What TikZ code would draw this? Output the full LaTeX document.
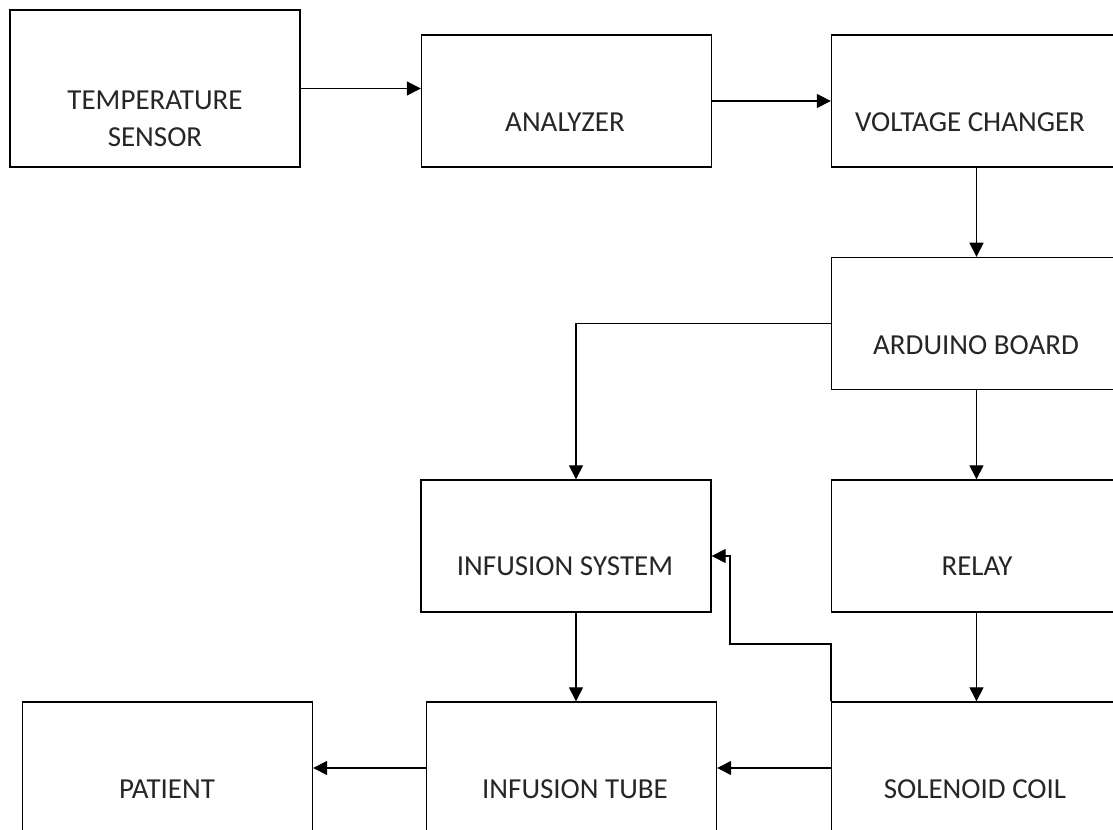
\documentclass[tikz,border=0pt]{standalone}
\usepackage{fontspec}
\setmainfont{Carlito}
\usetikzlibrary{arrows.meta}

\tikzset{
  box/.style={draw, line width=0.8pt, minimum width=5.8cm, minimum height=2.64cm},
  lbl/.style={font=\fontsize{16.5}{21}\selectfont, align=center, inner sep=0pt, text=black!85},
}

\begin{document}
\begin{tikzpicture}[x=0.02cm, y=-0.02cm, line width=0.8pt]
\path[use as bounding box, clip] (0,0) rectangle (1113,830);

% top row
\node[box, minimum height=3.14cm] (ts) at (155,88.5) {};
\node[box] (ana) at (566.5,101) {};
\node[box] (vc) at (976.5,101) {};
\node[lbl] (tst) at (155,118.5) {TEMPERATURE\\SENSOR};
\node[lbl] (anat) at (565,122) {ANALYZER};
\node[lbl] (vct) at (970,122) {VOLTAGE CHANGER};

% right column
\node[box] (ard) at (976.5,323.5) {};
\node[box] (rel) at (976.5,546) {};
\node[box] (sol) at (976.5,768) {};
\node[lbl] (ardt) at (976,345) {ARDUINO BOARD};
\node[lbl] (relt) at (977,566) {RELAY};
\node[lbl] (solt) at (975,789) {SOLENOID COIL};

% middle and left
\node[box] (inf) at (566,546) {};
\node[box] (tube) at (571.5,768) {};
\node[box] (pat) at (167.5,768) {};
\node[lbl] (inft) at (565,566) {INFUSION SYSTEM};
\node[lbl] (tubet) at (575,789) {INFUSION TUBE};
\node[lbl] (patt) at (167,789) {PATIENT};

\coordinate (kink) at (730,644);

\draw[->, >={Triangle[length=8pt,width=8pt]}] (ts.east) -- (ts.east -| ana.west);
\draw[->, >={Triangle[length=8pt,width=8pt]}] (ana.east) -- (vc.west);
\draw[->, >={Triangle[length=8pt,width=8pt]}] (vc.south) -- (ard.north);
\draw[->, >={Triangle[length=8pt,width=8pt]}] (ard.south) -- (rel.north);
\draw[->, >={Triangle[length=8pt,width=8pt]}] (rel.south) -- (sol.north);
\draw[->, >={Triangle[length=8pt,width=8pt]}] (ard.west) -| ([xshift=0.2cm]inf.north);
\draw[->, >={Triangle[length=8pt,width=8pt]}] ([xshift=0.2cm]inf.south) -- ([xshift=0.2cm]inf.south |- tube.north);
\draw[->, >={Triangle[length=8pt,width=8pt]}] (sol.west) -- (sol.west -| tube.east);
\draw[->, >={Triangle[length=8pt,width=8pt]}] (tube.west) -- (tube.west -| pat.east);
\draw[->, >={Triangle[length=8pt,width=8pt]}] (sol.north west) |- (kink) |- ([yshift=-0.2cm]inf.east);

\end{tikzpicture}
\end{document}
